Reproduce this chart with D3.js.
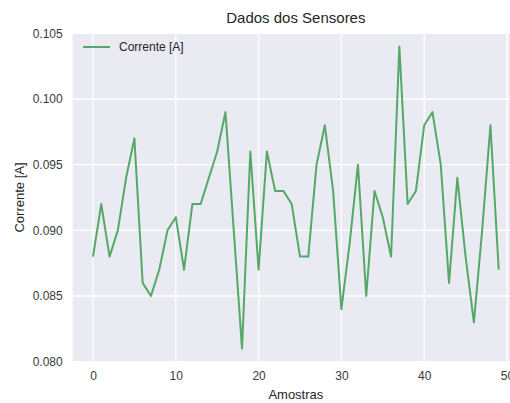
<!DOCTYPE html>
<html>
<head>
<meta charset="utf-8">
<script src="https://cdn.jsdelivr.net/npm/d3@7/dist/d3.min.js"></script>
<style>
  html, body { margin: 0; padding: 0; background: #ffffff; overflow: hidden; }
  svg { display: block; font-family: "Liberation Sans", Arial, sans-serif; }
</style>
</head>
<body>
<svg id="chart" width="510" height="403"></svg>
<script>
// Sensor readings: current per sample
const samples = d3.range(50);
const corrente = [
  0.088, 0.092, 0.088, 0.090, 0.094, 0.097, 0.086, 0.085, 0.087, 0.090,
  0.091, 0.087, 0.092, 0.092, 0.094, 0.096, 0.099, 0.090, 0.081, 0.096,
  0.087, 0.096, 0.093, 0.093, 0.092, 0.088, 0.088, 0.095, 0.098, 0.093,
  0.084, 0.089, 0.095, 0.085, 0.093, 0.091, 0.088, 0.104, 0.092, 0.093,
  0.098, 0.099, 0.095, 0.086, 0.094, 0.088, 0.083, 0.090, 0.098, 0.087
];
const xTicks = [0, 10, 20, 30, 40, 50];
const yTicks = [0.080, 0.085, 0.090, 0.095, 0.100, 0.105];
const seriesName = "Corrente [A]";
const titleText = "Dados dos Sensores";
const xLabel = "Amostras";
const yLabel = "Corrente [A]";

const svg = d3.select("#chart");
const plot = { left: 72.7, right: 519, top: 33.3, bottom: 361.7 };

const x = d3.scaleLinear().domain([-2.45, 51.45]).range([plot.left, plot.right]);
const y = d3.scaleLinear().domain([0.080, 0.105]).range([plot.bottom, plot.top]);

// axes background
svg.append("rect")
  .attr("x", plot.left).attr("y", plot.top)
  .attr("width", plot.right - plot.left).attr("height", plot.bottom - plot.top)
  .attr("fill", "#EAEAF2");

// grid
const grid = svg.append("g").attr("stroke", "#ffffff").attr("stroke-width", 1.3);
grid.selectAll("line.gx").data(xTicks).join("line")
  .attr("x1", d => x(d)).attr("x2", d => x(d))
  .attr("y1", plot.top).attr("y2", plot.bottom);
grid.selectAll("line.gy").data(yTicks).join("line")
  .attr("x1", plot.left).attr("x2", plot.right)
  .attr("y1", d => y(d)).attr("y2", d => y(d));

// axes (tick labels only, seaborn darkgrid style)
const xAxis = svg.append("g")
  .attr("transform", `translate(0,${plot.bottom})`)
  .call(d3.axisBottom(x).tickValues(xTicks).tickSize(0).tickPadding(10).tickFormat(d3.format("d")));
const yAxis = svg.append("g")
  .attr("transform", `translate(${plot.left},0)`)
  .call(d3.axisLeft(y).tickValues(yTicks).tickSize(0).tickPadding(10).tickFormat(d3.format(".3f")));
[xAxis, yAxis].forEach(a => {
  a.select(".domain").remove();
  a.selectAll("text").attr("font-size", 12).attr("fill", "#3a3a3a")
    .attr("font-family", "'Liberation Sans', Arial, sans-serif");
});

// series line
const line = d3.line().x((d, i) => x(samples[i])).y(d => y(d));
svg.append("path")
  .datum(corrente)
  .attr("fill", "none")
  .attr("stroke", "#55A868")
  .attr("stroke-width", 2)
  .attr("stroke-linejoin", "round")
  .attr("d", line);

// legend
const lg = svg.append("g").attr("transform", "translate(83,47)");
lg.append("line").attr("x1", 0).attr("x2", 27).attr("y1", 0).attr("y2", 0)
  .attr("stroke", "#55A868").attr("stroke-width", 2);
lg.append("text").attr("x", 36).attr("y", 0).attr("dy", "0.35em")
  .attr("font-size", 12).attr("fill", "#262626").text(seriesName);

// title and axis labels
svg.append("text")
  .attr("x", (plot.left + plot.right) / 2).attr("y", 23)
  .attr("text-anchor", "middle").attr("font-size", 15).attr("fill", "#262626")
  .text(titleText);
svg.append("text")
  .attr("x", (plot.left + plot.right) / 2).attr("y", 399)
  .attr("text-anchor", "middle").attr("font-size", 13).attr("fill", "#262626")
  .text(xLabel);
svg.append("text")
  .attr("transform", `translate(24,${(plot.top + plot.bottom) / 2}) rotate(-90)`)
  .attr("text-anchor", "middle").attr("font-size", 13).attr("fill", "#262626")
  .text(yLabel);
</script>
</body>
</html>
